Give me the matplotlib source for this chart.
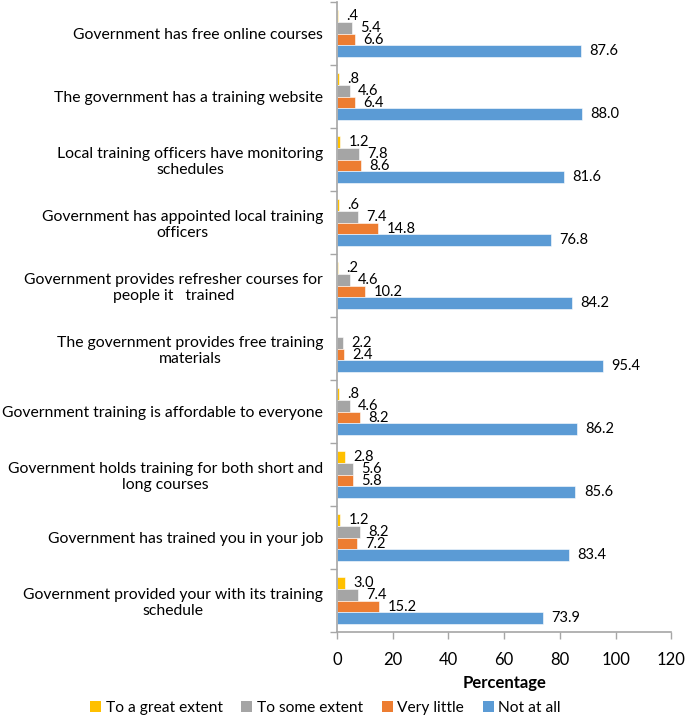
import matplotlib
matplotlib.use('Agg')
from matplotlib import pyplot as plt
from matplotlib.patches import Patch

plt.rcParams['font.family'] = ['Lato', 'DejaVu Sans']

statements = [
    'Government has free online courses',
    'The government has a training website',
    'Local training officers have monitoring\nschedules',
    'Government has appointed local training\nofficers',
    'Government provides refresher courses for\npeople it   trained',
    'The government provides free training\nmaterials',
    'Government training is affordable to everyone',
    'Government holds training for both short and\nlong courses',
    'Government has trained you in your job',
    'Government provided your with its training\nschedule',
]
great_extent = [0.4, 0.8, 1.2, 0.6, 0.2, 0.0, 0.8, 2.8, 1.2, 3.0]
some_extent = [5.4, 4.6, 7.8, 7.4, 4.6, 2.2, 4.6, 5.6, 8.2, 7.4]
very_little = [6.6, 6.4, 8.6, 14.8, 10.2, 2.4, 8.2, 5.8, 7.2, 15.2]
not_at_all = [87.6, 88.0, 81.6, 76.8, 84.2, 95.4, 86.2, 85.6, 83.4, 73.9]

series = [
    ('To a great extent', great_extent, '#FFC000'),
    ('To some extent', some_extent, '#A5A5A5'),
    ('Very little', very_little, '#ED7D31'),
    ('Not at all', not_at_all, '#5B9BD5'),
]
x_ticks = [0, 20, 40, 60, 80, 100, 120]


def fmt(v):
    s = f'{v:.1f}'
    if v < 1:
        s = s.lstrip('0')
    return s


fig = plt.figure(figsize=(6.85, 7.2), dpi=100)
ax = fig.add_axes([0.492, 0.122, 0.488, 0.875])

bh = 0.187
offsets = [-1.5 * bh, -0.5 * bh, 0.5 * bh, 1.5 * bh]
centers = [i + 0.5 for i in range(len(statements))]

for (name, vals, col), off in zip(series, offsets):
    ys = [c + off for c in centers]
    ax.barh(ys, vals, height=bh, color=col, edgecolor='white', linewidth=0.4)
    for y, v in zip(ys, vals):
        if v == 0:
            continue
        ax.annotate(fmt(v), (v, y), xytext=(6, 0), textcoords='offset points',
                    ha='left', va='center', fontsize=10.5, color='black')

ax.set_ylim(len(statements), 0)
ax.set_xlim(0, 120)
ax.set_xticks(x_ticks)
ax.set_xticklabels([str(t) for t in x_ticks], fontsize=12)
ax.set_yticks(centers)
ax.set_yticklabels(statements, fontsize=11.3, multialignment='center', color='black')
ax.set_yticks(range(0, len(statements) + 1), minor=True)
ax.tick_params(axis='y', which='major', length=0, pad=10)
ax.tick_params(axis='y', which='minor', length=5, color='#A6A6A6', width=1)
ax.tick_params(axis='x', length=5, color='#A6A6A6', width=1, pad=9)

for s in ['top', 'right']:
    ax.spines[s].set_visible(False)
for s in ['left', 'bottom']:
    ax.spines[s].set_color('#A6A6A6')
    ax.spines[s].set_linewidth(1.2)

ax.set_xlabel('Percentage', fontsize=12, fontweight='bold', labelpad=5)

handles = [Patch(facecolor=c, label=n) for n, _, c in series]
fig.legend(handles=handles, loc='lower center', bbox_to_anchor=(0.475, -0.012),
           ncol=4, frameon=False, fontsize=11.2, handlelength=0.7, handleheight=0.7,
           handletextpad=0.3, columnspacing=1.2)

fig.savefig('out.png', dpi=100)
